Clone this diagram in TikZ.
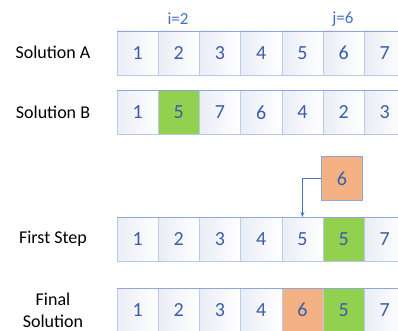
\documentclass[tikz,border=0pt]{standalone}
\usepackage{fontspec}
\setmainfont{Carlito}
\usetikzlibrary{arrows.meta}
\definecolor{numblue}{HTML}{3B5EA8}
\definecolor{lblblue}{HTML}{4472C4}
\definecolor{cellL}{HTML}{EAEDF6}
\definecolor{sepc}{HTML}{BCCBE8}
\definecolor{topc}{HTML}{8EA6D8}
\definecolor{botc}{HTML}{B8C8E6}
\definecolor{gfill}{HTML}{92D050}
\definecolor{ofill}{HTML}{F4B183}
\tikzset{
  cellbase/.style={minimum width=41.2pt, minimum height=44pt, inner sep=0pt, outer sep=0pt,
    text=numblue, font=\fontsize{20}{23}\selectfont},
  cell/.style={cellbase, left color=cellL, right color=white, draw=sepc, line width=0.5pt},
  gcell/.style={cellbase, fill=gfill, draw=sepc, line width=0.5pt},
  ocell/.style={cellbase, fill=ofill, draw=sepc, line width=0.5pt},
  boxc/.style={cellbase, fill=ofill, draw=topc, line width=0.8pt},
  rowtop/.style={draw=topc, line width=0.9pt},
  rowbot/.style={draw=botc, line width=0.9pt},
  lbl/.style={font=\fontsize{18}{22}\selectfont, text=black, align=center},
  idx/.style={font=\fontsize{17}{20}\selectfont, text=lblblue},
  conn/.style={draw=lblblue, line width=1.1pt, -{Stealth[length=5pt,width=4pt]}}
}
\begin{document}
\begin{tikzpicture}[x=1pt,y=-1pt]
\useasboundingbox (0,0) rectangle (398,331);
\clip (0,0) rectangle (398,331);
% Solution A
\foreach \v [count=\i] in {1,2,3,4,5,6,7}
  \node[cell] (a\i) at ({117+20.6+41.2*(\i-1)},53) {\v};
\draw[rowtop] (a1.north west) -- (a7.north east);
\draw[rowbot] (a1.south west) -- (a7.south east);
% Solution B
\foreach \v [count=\i] in {1,5,7,6,4,2,3}
  \node[cell] (b\i) at ({117+20.6+41.2*(\i-1)},112.5) {\v};
\node[gcell] at (b2) {5};
\draw[rowtop] (b1.north west) -- (b7.north east);
\draw[rowbot] (b1.south west) -- (b7.south east);
% First Step
\foreach \v [count=\i] in {1,2,3,4,5,5,7}
  \node[cell] (f\i) at ({117+20.6+41.2*(\i-1)},239) {\v};
\node[gcell] at (f6) {5};
\draw[rowtop] (f1.north west) -- (f7.north east);
\draw[rowbot] (f1.south west) -- (f7.south east);
% Final Solution
\foreach \v [count=\i] in {1,2,3,4,6,5,7}
  \node[cell] (g\i) at ({117+20.6+41.2*(\i-1)},310) {\v};
\node[ocell] at (g5) {6};
\node[gcell] at (g6) {5};
\draw[rowtop] (g1.north west) -- (g7.north east);
% indices
\node[idx] (ilbl) at (178,19) {i=2};
\node[idx] (jlbl) at (343,19) {j=6};
% moved value
\node[boxc] (o) at (342,178.5) {6};
\draw[conn] (o.west) -| (f5.north);
% row labels
\node[lbl] (la) at (53,52) {Solution A};
\node[lbl] (lb) at (53,112) {Solution B};
\node[lbl] (lf) at (53,239) {First Step};
\node[lbl] (lg) at (53,310) {Final\\Solution};
\end{tikzpicture}
\end{document}
